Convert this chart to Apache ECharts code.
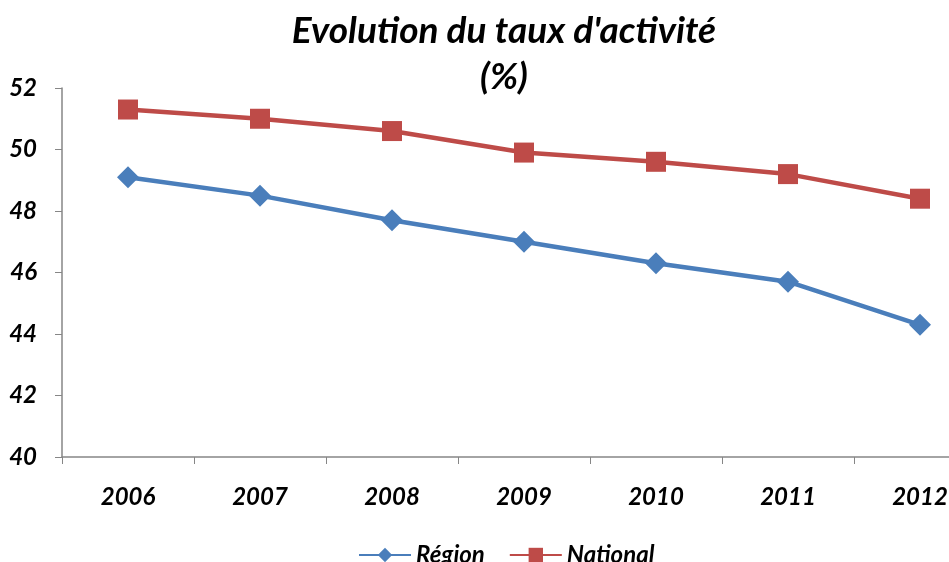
<!DOCTYPE html>
<html>
<head>
<meta charset="utf-8">
<script src="https://cdn.jsdelivr.net/npm/echarts@6/dist/echarts.min.js"></script>
<style>
  html, body { margin: 0; padding: 0; background: #fff; }
  #chart { width: 949px; height: 562px; }
</style>
</head>
<body>
<div id="chart"></div>
<script>
// data
const years = ['2006', '2007', '2008', '2009', '2010', '2011', '2012']
const region = [49.1, 48.5, 47.7, 47.0, 46.3, 45.7, 44.3]
const national = [51.3, 51.0, 50.6, 49.9, 49.6, 49.2, 48.4]

const font = 'Lato, Calibri, sans-serif'
const axisColor = '#868686'

const chart = echarts.init(document.getElementById('chart'))
chart.setOption({
  animation: false,
  title: {
    text: "Evolution du taux d'activité\n(%)",
    left: 499,
    textAlign: 'center',
    top: 3,
    textStyle: {
      fontFamily: font,
      fontSize: 37,
      fontWeight: 'bold',
      fontStyle: 'italic',
      color: '#000',
      lineHeight: 46
    }
  },
  grid: {
    left: 62,
    top: 88,
    width: 924,
    height: 369,
    outerBoundsMode: 'none'
  },
  legend: {
    left: 353,
    top: 538,
    itemWidth: 52,
    itemHeight: 18,
    itemGap: 24,
    textStyle: {
      fontFamily: font,
      fontSize: 24,
      fontWeight: 'bold',
      fontStyle: 'italic',
      color: '#000'
    },
    data: ['Région', 'National']
  },
  xAxis: {
    type: 'category',
    data: years,
    boundaryGap: true,
    axisLine: { lineStyle: { color: axisColor, width: 1.5 } },
    axisTick: { show: true, length: 7, lineStyle: { color: axisColor } },
    axisLabel: {
      margin: 28,
      fontFamily: font,
      fontSize: 24,
      fontWeight: 'bold',
      fontStyle: 'italic',
      color: '#000'
    }
  },
  yAxis: {
    type: 'value',
    min: 40,
    max: 52,
    interval: 2,
    axisLine: { show: true, lineStyle: { color: axisColor, width: 1.5 } },
    axisTick: { show: true, length: 7, lineStyle: { color: axisColor } },
    splitLine: { show: false },
    axisLabel: {
      margin: 25,
      fontFamily: font,
      fontSize: 24,
      fontWeight: 'bold',
      fontStyle: 'italic',
      color: '#000'
    }
  },
  series: [
    {
      name: 'Région',
      type: 'line',
      data: region,
      symbol: 'diamond',
      symbolSize: [22, 22],
      lineStyle: { width: 4.5, color: '#4A7EBB' },
      itemStyle: { color: '#4A7EBB' }
    },
    {
      name: 'National',
      type: 'line',
      data: national,
      symbol: 'rect',
      symbolSize: [20, 20],
      lineStyle: { width: 4.5, color: '#BE4B48' },
      itemStyle: { color: '#BE4B48' }
    }
  ]
})
</script>
</body>
</html>
